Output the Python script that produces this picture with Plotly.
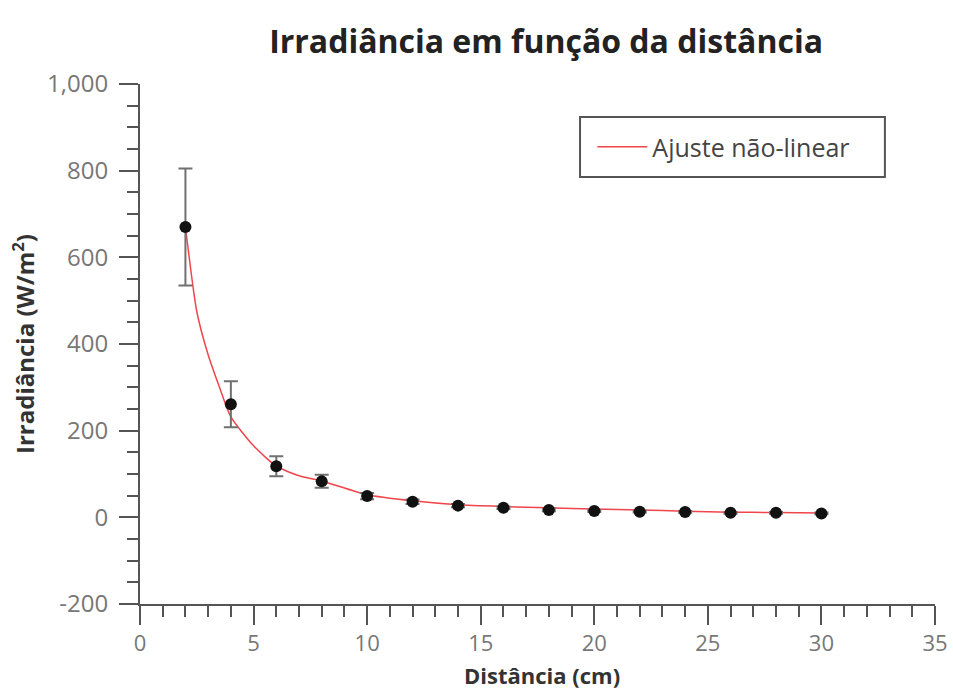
import plotly.graph_objects as go

# Measured data
distance = [2, 4, 6, 8, 10, 12, 14, 16, 18, 20, 22, 24, 26, 28, 30]
irradiance = [670, 261, 118, 83, 49, 36, 27, 22, 17, 14.5, 13, 12.5, 10.5, 10.5, 9]
irr_error = [135, 53, 23, 15, 7, 5, 4, 3, 3, 2, 2, 2, 2, 2, 2]

# Non-linear fit curve
fit_x = [2, 2.5, 3, 3.5, 4, 5, 6, 7, 8, 10, 12, 14, 16, 18, 20, 22, 24, 26, 28, 30]
fit_y = [670, 475, 375, 300, 232, 165, 118, 96, 84, 52, 38, 29, 25, 22, 19, 17, 14, 12, 11, 10]

# Tick labels
y_tick_vals = [-200, 0, 200, 400, 600, 800, 1000]
y_tick_text = ["-200", "0", "200", "400", "600", "800", "1,000"]

title_text = "Irradiância em função da distância"
x_title = "Distância (cm)"
y_title = "Irradiância (W/m<sup>2</sup>)"
legend_name = "Ajuste não-linear"

fig = go.Figure()
fig.add_trace(go.Scatter(
    x=fit_x, y=fit_y, mode="lines", name=legend_name,
    line=dict(color="#f0454b", width=1.5, shape="spline", smoothing=0.6),
))
fig.add_trace(go.Scatter(
    x=distance, y=irradiance, mode="markers", showlegend=False,
    marker=dict(color="#111111", size=12),
    error_y=dict(type="data", array=irr_error, visible=True, color="#707070",
                 thickness=2, width=7),
))

font_family = "Open Sans, Noto Sans, DejaVu Sans, sans-serif"
axis_common = dict(
    showgrid=False, zeroline=False, showline=True, linecolor="#555555", linewidth=2,
    ticks="outside", ticklen=19, tickwidth=2, tickcolor="#555555", automargin=False,
)

# legend border box
fig.add_shape(type="rect", xref="paper", yref="paper",
              x0=0.5535, x1=0.937, y0=0.821, y1=0.9365,
              line=dict(color="#555555", width=2), fillcolor="rgba(0,0,0,0)")

# x-axis title as annotation (for exact placement)
fig.add_annotation(text="<b>" + x_title + "</b>", xref="paper", yref="paper",
                   x=0.5057, y=-0.137, xanchor="center", yanchor="middle",
                   showarrow=False,
                   font=dict(size=22, color="#333333", family=font_family))

fig.update_layout(
    width=953, height=690,
    margin=dict(l=140, r=18, t=84, b=86),
    paper_bgcolor="white", plot_bgcolor="white",
    font=dict(family=font_family),
    title=dict(text="<b>" + title_text + "</b>", x=0.573, xanchor="center",
               y=0.939, yanchor="middle", automargin=False,
               font=dict(size=32, color="#222222", family=font_family)),
    xaxis=dict(range=[0, 35], dtick=5, tick0=0, ticklabelstandoff=0,
               tickfont=dict(size=22, color="#777777", family=font_family),
               minor=dict(dtick=1, ticks="outside", ticklen=11, tickwidth=2, tickcolor="#555555"),
               **axis_common),
    yaxis=dict(range=[-200, 1000], tickmode="array", tickvals=y_tick_vals,
               ticktext=y_tick_text, ticklabelstandoff=6,
               tickfont=dict(size=24, color="#777777", family=font_family),
               title=dict(text="<b>" + y_title + "</b>", standoff=6,
                          font=dict(size=24, color="#333333", family=font_family)),
               minor=dict(dtick=50, ticks="outside", ticklen=11, tickwidth=2, tickcolor="#555555"),
               **axis_common),
    legend=dict(x=0.569, y=0.923, xanchor="left", yanchor="top",
                borderwidth=0, bgcolor="rgba(0,0,0,0)",
                font=dict(size=25, color="#444444", family=font_family),
                itemwidth=50, tracegroupgap=0),
    showlegend=True,
)

fig.write_html("out.html")
